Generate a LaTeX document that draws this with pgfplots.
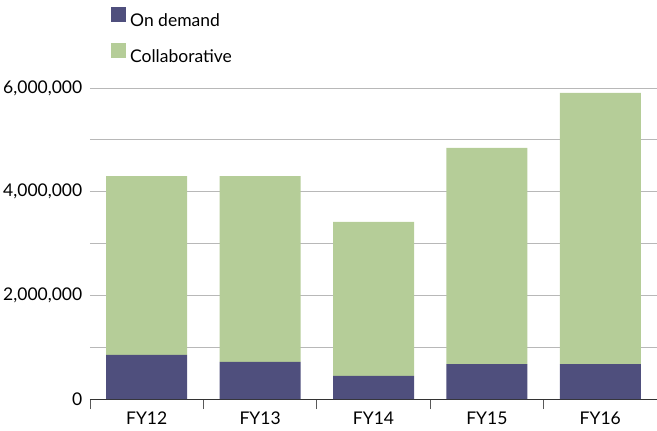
\documentclass[border=0pt]{standalone}
\usepackage{pgfplots}
\pgfplotsset{compat=1.18}
\usepackage{fontspec}
\setmainfont{Lato}
\definecolor{ondemand}{HTML}{4F4F7D}
\definecolor{collab}{HTML}{B5CD98}
\definecolor{gridc}{HTML}{B8B8B8}
\begin{document}
\begin{tikzpicture}[font=\fontsize{17.5bp}{20bp}\selectfont]
\path[use as bounding box] (-90bp,-32bp) rectangle (567bp,399bp);
\begin{axis}[
  at={(0,0)}, anchor=south west,
  scale only axis, width=567bp, height=311bp,
  ybar stacked, bar width=81bp,
  xmin=-0.5, xmax=4.5, ymin=0, ymax=6000000,
  axis x line*=bottom, axis y line*=left,
  y axis line style={draw=none},
  x axis line style={draw=black!80, line width=0.8pt},
  xtick={0,1,2,3,4},
  xticklabels={FY12,FY13,FY14,FY15,FY16},
  minor xtick={-0.5,0.5,1.5,2.5,3.5,4.5},
  tick align=outside,
  major x tick style={draw=none},
  minor x tick style={draw=black!65, line width=0.8pt},
  minor tick length=10bp,
  ytick={0,2000000,4000000,6000000},
  minor ytick={1000000,3000000,5000000},
  major y tick style={draw=none},
  minor y tick style={draw=none},
  ymajorgrids, yminorgrids,
  major grid style={draw=gridc, line width=0.8pt},
  minor grid style={draw=gridc, line width=0.8pt},
  scaled y ticks=false,
  yticklabel style={/pgf/number format/.cd, fixed, 1000 sep={,}, assume math mode=true},
  xticklabel style={yshift=-7bp, inner ysep=1bp},
  /pgf/number format/assume math mode=true,
  legend style={draw=none, fill=none, at={(0.037,1.262)}, anchor=north west,
    legend cell align=left, row sep=13bp, inner sep=0pt,
    font=\fontsize{17.5bp}{20bp}\selectfont,
    nodes={inner xsep=4bp}},
  legend image code/.code={\fill[#1, draw=none] (0bp,-1bp) rectangle (15bp,14bp);},
  axis on top=false,
]
\addplot[fill=ondemand, draw=none] coordinates {(0,849000) (1,714000) (2,444000) (3,675000) (4,675000)};
\addplot[fill=collab, draw=none] coordinates {(0,3451000) (1,3586000) (2,2971000) (3,4168000) (4,5229000)};
\legend{On demand, Collaborative}
\end{axis}
\end{tikzpicture}
\end{document}
